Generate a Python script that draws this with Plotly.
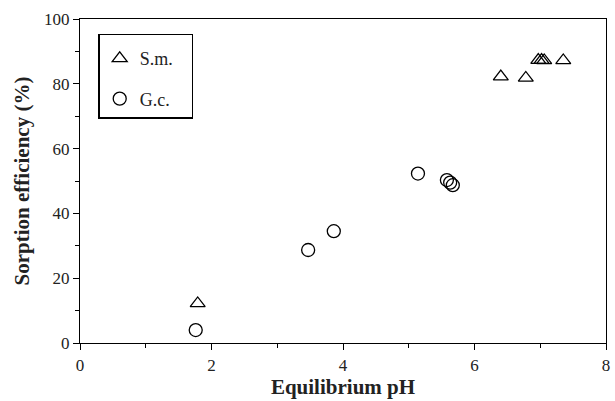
import plotly.graph_objects as go

# Sorption efficiency vs equilibrium pH for two sorbents
sm_ph = [1.79, 6.40, 6.78, 6.97, 7.02, 7.06, 7.35]
sm_eff = [12.2, 82.2, 81.8, 87.3, 87.3, 87.2, 87.2]

gc_ph = [1.76, 3.47, 3.86, 5.14, 5.58, 5.63, 5.67]
gc_eff = [4.0, 28.7, 34.5, 52.3, 50.3, 49.5, 48.7]

x_ticks = [0, 2, 4, 6, 8]
y_ticks = [0, 20, 40, 60, 80, 100]

FONT = "Liberation Serif"
INK = "#222"
PAD = "\u00a0\u00a0\u00a0"  # trailing space widens the legend box

fig = go.Figure()
fig.add_trace(go.Scatter(
    x=sm_ph, y=sm_eff, mode="markers", name="S.m." + PAD, legendgroup="a",
    marker=dict(symbol="triangle-up-open", size=13, color="black",
                line=dict(width=1.3, color="black")),
))
fig.add_trace(go.Scatter(
    x=gc_ph, y=gc_eff, mode="markers", name="G.c." + PAD, legendgroup="b",
    marker=dict(symbol="circle-open", size=13, color="black",
                line=dict(width=1.3, color="black")),
))

axis_common = dict(
    showline=True, linecolor="black", linewidth=1.3, mirror=True,
    ticks="outside", ticklen=6, tickwidth=1.2, tickcolor="black",
    showgrid=False, zeroline=False,
    tickfont=dict(family=FONT, size=17, color=INK),
    minor=dict(ticks="outside", ticklen=4, tickwidth=1.2, tickcolor="black"),
)

fig.update_xaxes(
    range=[0, 8], tickvals=x_ticks, ticktext=[str(v) for v in x_ticks],
    minor_dtick=1, minor_tick0=0,
    title=dict(text="<b>Equilibrium pH</b>", font=dict(family=FONT, size=21, color=INK),
               standoff=4),
    **axis_common,
)
fig.update_yaxes(
    range=[0, 100], tickvals=y_ticks, ticktext=[str(v) for v in y_ticks],
    minor_dtick=10, minor_tick0=0,
    title=dict(text="<b>Sorption efficiency (%)</b>", font=dict(family=FONT, size=21, color=INK),
               standoff=8),
    **axis_common,
)

fig.update_layout(
    width=615, height=401,
    margin=dict(l=80, r=5, t=19, b=58),
    paper_bgcolor="white", plot_bgcolor="white",
    showlegend=True,
    legend=dict(
        x=0.035, y=0.955, xanchor="left", yanchor="top",
        bordercolor="black", borderwidth=1.3, bgcolor="white",
        font=dict(family=FONT, size=18, color=INK),
        traceorder="grouped", tracegroupgap=14,
        itemwidth=30,
        title=dict(text="\u00a0", font=dict(size=4)),
    ),
)

fig.write_html("out.html")
